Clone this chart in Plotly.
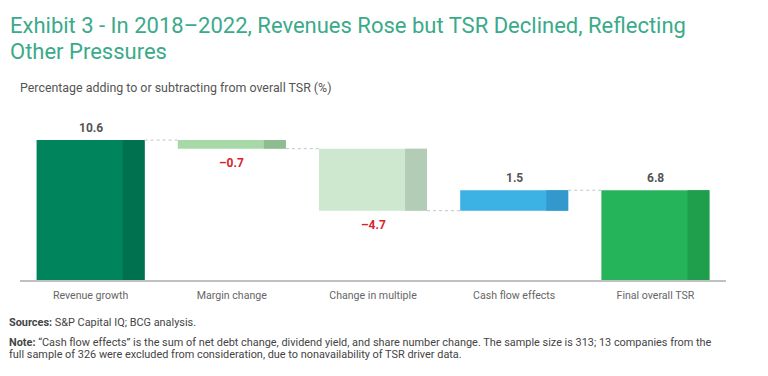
import plotly.graph_objects as go

# ---- data ----
categories = ["Revenue growth", "Margin change", "Change in multiple", "Cash flow effects", "Final overall TSR"]
values = [10.6, -0.65, -4.7, 1.55, 6.8]          # last entry is the total
measures = ["relative", "relative", "relative", "relative", "total"]
value_labels = ["10.6", "–0.7", "–4.7", "1.5", "6.8"]
main_colors = ["#00845C", "#A6D8A8", "#CDE8CF", "#3CB1E3", "#25B45A"]
dark_colors = ["#00714F", "#8EBB90", "#B3CCB5", "#3399CC", "#1F9E4C"]
label_colors = ["#555555", "#D8232F", "#D8232F", "#555555", "#555555"]

title_lines = ["Exhibit 3 - In 2018–2022, Revenues Rose but TSR Declined, Reflecting", "Other Pressures"]
subtitle_text = "Percentage adding to or subtracting from overall TSR (%)"
sources_text = "<b>Sources:</b> S&P Capital IQ; BCG analysis."
note_lines = ["<b>Note:</b> “Cash flow effects” is the sum of net debt change, dividend yield, and share number change. "
              "The sample size is 313; 13 companies from the",
              "full sample of 326 were excluded from consideration, due to nonavailability of TSR driver data."]

FONT = "Roboto"

# page body has an 8px margin; the figure is placed at (8, 8) in the window
PAGE_OFF = 8
PLOT_L, PLOT_R, PLOT_T, PLOT_B = 20, 726, 120, 280   # plot area in window pixels
PW, PH = PLOT_R - PLOT_L, PLOT_B - PLOT_T


def px(xp):
    return (xp - PLOT_L) / PW


def py(yp):
    return (PLOT_B - yp) / PH


# ---- waterfall geometry from data ----
bases, heights, levels = [], [], []
running = 0.0
for v, m in zip(values, measures):
    if m == "total":
        bases.append(0.0); heights.append(v); running = v
    else:
        if v >= 0:
            bases.append(running); heights.append(v)
        else:
            bases.append(running + v); heights.append(-v)
        running += v
    levels.append(running)

xs = list(range(len(categories)))
BW = 0.765
DW = 0.155

fig = go.Figure()
fig.add_trace(go.Bar(x=xs, y=heights, base=bases, width=BW, offset=-BW / 2,
                     marker=dict(color=main_colors, line=dict(width=0)),
                     hoverinfo="skip", showlegend=False))
fig.add_trace(go.Bar(x=xs, y=heights, base=bases, width=DW, offset=BW / 2 - DW,
                     marker=dict(color=dark_colors, line=dict(width=0)),
                     hoverinfo="skip", showlegend=False))

# connectors
for i in range(len(categories) - 1):
    lvl = levels[i]
    fig.add_trace(go.Scatter(x=[i + BW / 2, i + 1 - BW / 2], y=[lvl, lvl], mode="lines",
                             line=dict(color="#C4C4C4", width=1, dash="3px,3px"),
                             hoverinfo="skip", showlegend=False))

# value labels
annotations = []
for i, (v, m) in enumerate(zip(values, measures)):
    top = bases[i] + heights[i]
    if v >= 0:
        annotations.append(dict(x=i, y=top, xref="x", yref="y", text="<b>%s</b>" % value_labels[i],
                                showarrow=False, yanchor="bottom", yshift=3,
                                font=dict(family=FONT, size=12, color=label_colors[i])))
    else:
        annotations.append(dict(x=i, y=bases[i], xref="x", yref="y", text="<b>%s</b>" % value_labels[i],
                                showarrow=False, yanchor="top", yshift=-5,
                                font=dict(family=FONT, size=12, color=label_colors[i])))

for line, yc in zip(title_lines, [25, 51]):
    annotations.append(dict(text=line, xref="paper", yref="paper", x=px(8), y=py(yc),
                            xanchor="left", yanchor="middle", showarrow=False,
                            font=dict(family=FONT, size=22, color="#3BAA8A")))

annotations.append(dict(text=subtitle_text, xref="paper", yref="paper", x=px(18), y=py(87),
                        xanchor="left", yanchor="middle", showarrow=False,
                        font=dict(family=FONT, size=12.4, color="#555555")))
annotations.append(dict(text=sources_text, xref="paper", yref="paper", x=px(7), y=py(322.5),
                        xanchor="left", yanchor="middle", showarrow=False,
                        font=dict(family=FONT, size=10.9, color="#444444")))
for line, yc in zip(note_lines, [342, 354]):
    annotations.append(dict(text=line, xref="paper", yref="paper", x=px(7), y=py(yc),
                            xanchor="left", yanchor="middle", showarrow=False,
                            font=dict(family=FONT, size=10.9, color="#444444")))

W, H = 768 - PAGE_OFF, 376 - PAGE_OFF
fig.update_layout(
    width=W, height=H,
    margin=dict(l=PLOT_L - PAGE_OFF, r=W - (PLOT_R - PAGE_OFF), t=PLOT_T - PAGE_OFF, b=H - (PLOT_B - PAGE_OFF)),
    paper_bgcolor="white", plot_bgcolor="white",
    barmode="overlay",
    xaxis=dict(range=[-0.5, 4.5], tickvals=xs, ticktext=categories, showgrid=False,
               zeroline=False, showline=True, linecolor="#C0C0C0", linewidth=1.5,
               ticks="", ticklabelstandoff=5,
               tickfont=dict(family=FONT, size=10.6, color="#666666"), fixedrange=True),
    yaxis=dict(range=[0, PH / 13.2], visible=False, showgrid=False, zeroline=False, fixedrange=True),
    annotations=annotations,
    font=dict(family=FONT),
)

fig.write_html("out.html")
